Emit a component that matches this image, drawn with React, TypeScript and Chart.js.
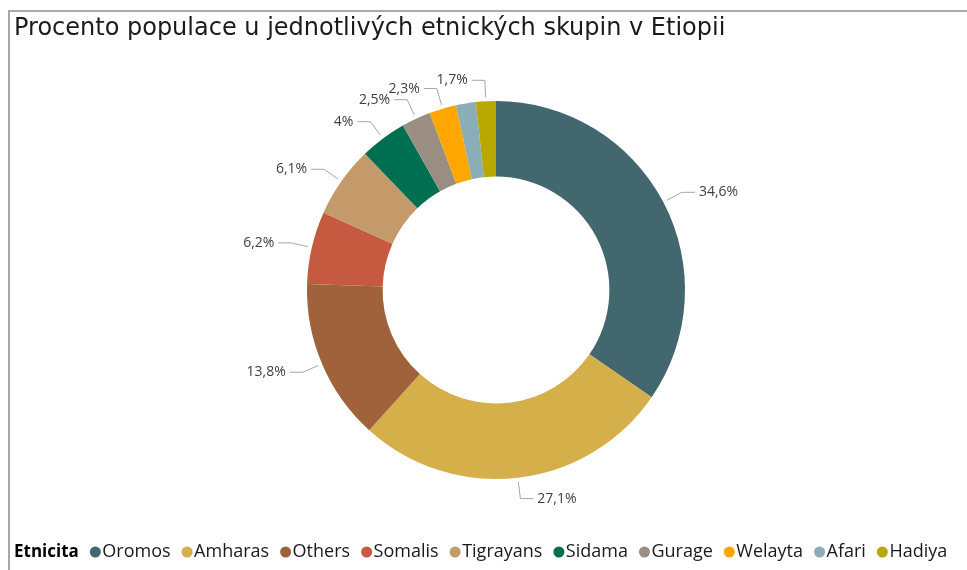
import React, { useEffect, useRef } from "react";
import { Chart, registerables } from "chart.js";

Chart.register(...registerables);

const titleText = "Procento populace u jednotlivých etnických skupin v Etiopii";
const legendTitle = "Etnicita";
const categories = ["Oromos", "Amharas", "Others", "Somalis", "Tigrayans", "Sidama", "Gurage", "Welayta", "Afari", "Hadiya"];
const values = [34.6, 27.1, 13.8, 6.2, 6.1, 4, 2.5, 2.3, 1.7, 1.7];
const valueLabels = ["34,6%", "27,1%", "13,8%", "6,2%", "6,1%", "4%", "2,5%", "2,3%", "", "1,7%"];
const colors = ["#42676F", "#D4AF4A", "#A0623A", "#C55A40", "#C49A6A", "#006E50", "#9A8E82", "#FFA600", "#8AADB8", "#B9A800"];

const FONT = '"Open Sans", "DejaVu Sans", sans-serif';
const TITLE_FONT = '"DejaVu Sans", sans-serif';

const overlay = {
  id: "overlay",
  afterDraw(chart: any) {
    const ctx: CanvasRenderingContext2D = chart.ctx;
    ctx.save();
    // frame
    ctx.fillStyle = "#a8a8a8";
    ctx.fillRect(8, 10, chart.width - 8, 2);
    ctx.fillRect(8, 10, 2, chart.height - 10);

    // title
    ctx.fillStyle = "#1a1a1a";
    ctx.font = `24px ${TITLE_FONT}`;
    ctx.textAlign = "left";
    ctx.textBaseline = "alphabetic";
    ctx.fillText(titleText, 14, 35);

    // data labels with leader lines
    const meta = chart.getDatasetMeta(0);
    ctx.font = `14px ${FONT}`;
    ctx.textBaseline = "middle";
    meta.data.forEach((arc: any, i: number) => {
      const txt = valueLabels[i];
      if (!txt) return;
      const p = arc.getProps(["x", "y", "startAngle", "endAngle", "outerRadius"], true);
      const mid = (p.startAngle + p.endAngle) / 2;
      const c = Math.cos(mid);
      const s = Math.sin(mid);
      const x0 = p.x + c * (p.outerRadius + 4);
      const y0 = p.y + s * (p.outerRadius + 4);
      const x1 = p.x + c * (p.outerRadius + 21);
      const y1 = p.y + s * (p.outerRadius + 21);
      const right = c >= 0;
      const x2 = x1 + (right ? 13 : -13);
      ctx.strokeStyle = "#a6a6a6";
      ctx.lineWidth = 1;
      ctx.beginPath();
      ctx.moveTo(x0, y0);
      ctx.lineTo(x1, y1);
      ctx.lineTo(x2, y1);
      ctx.stroke();
      ctx.fillStyle = "#404040";
      ctx.textAlign = right ? "left" : "right";
      ctx.fillText(txt, x2 + (right ? 4 : -4), y1);
    });

    // legend
    const ly = 552;
    let x = 14;
    ctx.textAlign = "left";
    ctx.textBaseline = "middle";
    ctx.fillStyle = "#000";
    ctx.font = `bold 17px ${FONT}`;
    ctx.fillText(legendTitle, x, ly);
    x += ctx.measureText(legendTitle).width;
    ctx.font = `18px ${FONT}`;
    categories.forEach((cat, i) => {
      const cx = x + 16.5;
      ctx.fillStyle = colors[i];
      ctx.beginPath();
      ctx.arc(cx, ly, 5.5, 0, Math.PI * 2);
      ctx.fill();
      ctx.fillStyle = "#1a1a1a";
      ctx.fillText(cat, cx + 7, ly);
      x = cx + 7 + ctx.measureText(cat).width;
    });
    ctx.restore();
  },
};

export default function App() {
  const ref = useRef<HTMLCanvasElement>(null);
  useEffect(() => {
    if (!ref.current) return;
    const chart = new Chart(ref.current, {
      type: "doughnut",
      data: {
        labels: categories,
        datasets: [
          {
            data: values,
            backgroundColor: colors,
            borderWidth: 0,
            hoverOffset: 0,
          },
        ],
      },
      options: {
        responsive: false,
        animation: false,
        events: [],
        cutout: "60%",
        layout: { padding: { top: 101, bottom: 91, left: 25, right: 0 } },
        plugins: {
          legend: { display: false },
          title: { display: false },
          tooltip: { enabled: false },
        },
      },
      plugins: [overlay],
    });
    return () => chart.destroy();
  }, []);
  return (
    <div style={{ position: "fixed", left: 0, top: 0, width: 967, height: 570, background: "#fff" }}>
      <canvas ref={ref} width={967} height={570} style={{ display: "block" }} />
    </div>
  );
}
